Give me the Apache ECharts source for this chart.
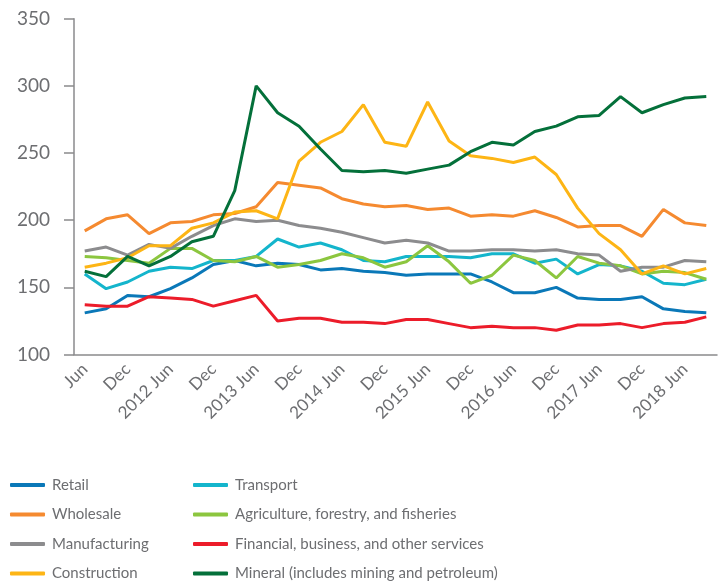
<!DOCTYPE html>
<html>
<head>
<meta charset="utf-8">
<script src="https://cdn.jsdelivr.net/npm/echarts@6/dist/echarts.min.js"></script>
<style>html,body{margin:0;padding:0;background:#fff}#c{width:720px;height:584px}</style>
</head>
<body>
<div id="c"></div>
<script>
const categories = ['Jun','Sep','Dec','Mar','2012 Jun','Sep','Dec','Mar','2013 Jun','Sep','Dec','Mar','2014 Jun','Sep','Dec','Mar','2015 Jun','Sep','Dec','Mar','2016 Jun','Sep','Dec','Mar','2017 Jun','Sep','Dec','Mar','2018 Jun','Sep'];
const retail = [131,134,144,143,149,157,167,170,166,168,167,163,164,162,161,159,160,160,160,154,146,146,150,142,141,141,143,134,132,131];
const transport = [160,149,154,162,165,164,170,170,173,186,180,183,178,170,169,173,173,173,172,175,175,168,171,160,167,166,162,153,152,156];
const wholesale = [192,201,204,190,198,199,204,205,210,228,226,224,216,212,210,211,208,209,203,204,203,207,202,195,196,196,188,208,198,196];
const agriculture = [173,172,170,168,179,179,170,169,173,165,167,170,175,172,165,169,181,169,153,159,174,170,157,173,168,166,160,162,161,156];
const manufacturing = [177,180,174,182,179,188,196,201,199,200,196,194,191,187,183,185,183,177,177,178,178,177,178,175,174,162,165,165,170,169];
const financial = [137,136,136,143,142,141,136,140,144,125,127,127,124,124,123,126,126,123,120,121,120,120,118,122,122,123,120,123,124,128];
const construction = [165,168,172,181,181,194,198,206,207,201,244,258,266,286,258,255,288,259,248,246,243,247,234,209,190,178,160,166,160,164];
const mineral = [162,158,173,166,173,184,188,222,300,280,270,253,237,236,237,235,238,241,251,258,256,266,270,277,278,292,280,286,291,292];
const yTicks = [100,150,200,250,300,350];

const names = {
  retail:'Retail', transport:'Transport', wholesale:'Wholesale',
  agriculture:'Agriculture, forestry, and fisheries', manufacturing:'Manufacturing',
  financial:'Financial, business, and other services', construction:'Construction',
  mineral:'Mineral (includes mining and petroleum)'
};
const colors = {
  retail:'#0a78b8', transport:'#14b5cc', wholesale:'#f58a30', agriculture:'#8cc63f',
  manufacturing:'#8c8c8e', financial:'#ec1c2a', construction:'#fdb515', mineral:'#04703a'
};
const dataMap = {retail, transport, wholesale, agriculture, manufacturing, financial, construction, mineral};
const drawOrder = ['retail','transport','wholesale','agriculture','manufacturing','financial','construction','mineral'];

const FONT = 'Lato';
const TXT = '#6d6e71';
const AX = '#8a8a8c';

const chart = echarts.init(document.getElementById('c'), null, {renderer:'canvas'});
const legendCommon = {
  orient:'vertical', icon:'roundRect', itemWidth:35, itemHeight:4, itemGap:11.5, padding:0,
  height:110,
  textStyle:{fontFamily:FONT, fontSize:15, color:TXT, lineHeight:18, padding:[0,0,0,2]},
  selectedMode:false
};
chart.setOption({
  animation:false,
  grid:{left:74, right:3, top:18.7, bottom:229.5, containLabel:false},
  legend:[
    Object.assign({left:10, top:476, data:[names.retail,names.wholesale,names.manufacturing,names.construction]}, legendCommon),
    Object.assign({left:193, top:476, data:[names.transport,names.agriculture,names.financial,names.mineral]}, legendCommon)
  ],
  xAxis:{
    type:'category', data:categories, boundaryGap:true,
    axisLine:{lineStyle:{color:AX, width:1.5}},
    axisTick:{show:false},
    axisLabel:{interval:1, rotate:45, margin:12, fontFamily:FONT, fontSize:17, color:TXT}
  },
  yAxis:{
    type:'value', min:yTicks[0], max:yTicks[yTicks.length-1], interval:50,
    axisLine:{show:true, lineStyle:{color:AX, width:1.5}},
    axisTick:{show:true, length:10, lineStyle:{color:AX, width:1.5}},
    splitLine:{show:false},
    axisLabel:{margin:24, fontFamily:FONT, fontSize:19, color:TXT}
  },
  series: drawOrder.map(k => ({
    name:names[k], type:'line', data:dataMap[k], symbol:'none',
    lineStyle:{color:colors[k], width:3}, itemStyle:{color:colors[k]}
  }))
});
</script>
</body>
</html>
